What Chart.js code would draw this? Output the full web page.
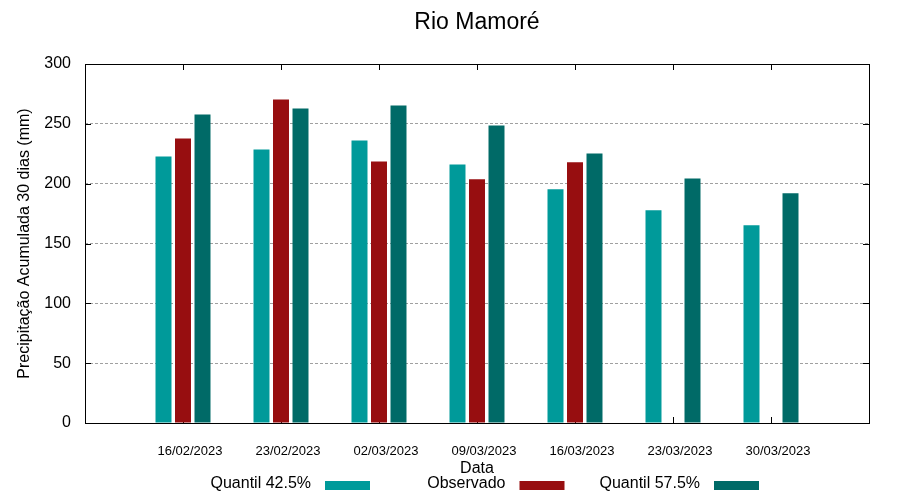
<!DOCTYPE html>
<html>
<head>
<meta charset="utf-8">
<script src="https://cdn.jsdelivr.net/npm/chart.js@4/dist/chart.umd.min.js"></script>
<style>
  html, body { margin: 0; padding: 0; background: #fff; }
</style>
</head>
<body>
<canvas id="chart" width="900" height="500"></canvas>
<script>
// chart data
const dates = ['16/02/2023', '23/02/2023', '02/03/2023', '09/03/2023', '16/03/2023', '23/03/2023', '30/03/2023'];
const quantil425 = [222.8, 228.6, 236.1, 216.1, 195.3, 177.8, 165.2];
const observado = [237.8, 270.3, 218.6, 203.6, 217.8, null, null];
const quantil575 = [257.8, 262.8, 265.3, 248.6, 225.3, 204.4, 191.9];
const yTicks = [0, 50, 100, 150, 200, 250, 300];

const FONT = "'Liberation Sans', Arial, sans-serif";
Chart.defaults.font.family = FONT;
Chart.defaults.color = '#000';

// empty slot before first and after last date, like the original axis range
const pad = arr => [null, ...arr, null];

const series = [
    { label: 'Quantil 42.5%', data: quantil425, color: '#009a9a' },
    { label: 'Observado', data: observado, color: '#970e10' },
    { label: 'Quantil 57.5%', data: quantil575, color: '#006a67' }
];

// border, inward tick marks and the gnuplot style legend
const framePlugin = {
    id: 'frame',
    beforeDatasetsDraw(chart) {
        const { ctx, chartArea: a, scales: { x, y } } = chart;
        ctx.save();
        ctx.strokeStyle = '#000';
        ctx.lineWidth = 1;
        ctx.beginPath();
        y.ticks.forEach(t => {
            const py = Math.round(y.getPixelForValue(t.value)) + 0.5;
            ctx.moveTo(a.left, py); ctx.lineTo(a.left + 6, py);
            ctx.moveTo(a.right, py); ctx.lineTo(a.right - 6, py);
        });
        dates.forEach((d, i) => {
            const px = Math.round(x.getPixelForValue(i + 1)) + 0.5;
            ctx.moveTo(px, a.bottom); ctx.lineTo(px, a.bottom - 6);
            ctx.moveTo(px, a.top); ctx.lineTo(px, a.top + 6);
        });
        ctx.stroke();
        ctx.restore();
    },
    afterDatasetsDraw(chart) {
        const { ctx, chartArea: a } = chart;
        ctx.save();
        ctx.strokeStyle = '#000';
        ctx.lineWidth = 1;
        ctx.strokeRect(Math.round(a.left) + 0.5, Math.round(a.top) + 0.5,
            Math.round(a.right - a.left), Math.round(a.bottom - a.top));
        ctx.restore();
    },
    afterDraw(chart) {
        const { ctx } = chart;
        ctx.save();
        ctx.font = '16px ' + FONT;
        ctx.textAlign = 'right';
        ctx.textBaseline = 'middle';
        chart.data.datasets.forEach((ds, i) => {
            const bx = 325 + i * 194.5;
            ctx.fillStyle = '#000';
            ctx.fillText(ds.label, bx - 14, 484);
            ctx.fillStyle = ds.backgroundColor;
            ctx.fillRect(bx, 481, 45, 9);
        });
        ctx.restore();
    }
};

new Chart(document.getElementById('chart').getContext('2d'), {
    type: 'bar',
    data: {
        labels: ['', ...dates, ''],
        datasets: series.map(s => ({
            label: s.label,
            data: pad(s.data),
            backgroundColor: s.color,
            borderWidth: 0,
            categoryPercentage: 0.597,
            barPercentage: 0.82
        }))
    },
    options: {
        responsive: false,
        animation: false,
        layout: { padding: { left: 0, right: 31, top: 0, bottom: 0 } },
        plugins: {
            legend: { display: false },
            tooltip: { enabled: false },
            title: {
                display: true,
                text: 'Rio Mamoré',
                fullSize: false,
                color: '#000',
                font: { size: 23, weight: 'normal' },
                padding: { top: 9, bottom: 27.4 }
            }
        },
        scales: {
            x: {
                offset: false,
                grid: { display: false, drawTicks: false },
                border: { display: false },
                ticks: {
                    autoSkip: false,
                    maxRotation: 0,
                    minRotation: 0,
                    padding: 21,
                    labelOffset: 7,
                    font: { size: 13 }
                },
                title: {
                    display: true,
                    text: 'Data',
                    font: { size: 16 },
                    padding: { top: 0, bottom: 22 }
                },
                afterFit: s => { s.height = 77; }
            },
            y: {
                min: 0,
                max: 300,
                afterBuildTicks: s => { s.ticks = yTicks.map(v => ({ value: v })); },
                grid: { color: '#a0a0a0', lineWidth: 1, drawTicks: false },
                border: { display: false, dash: [3, 2] },
                ticks: { padding: 14, font: { size: 16 } },
                title: {
                    display: true,
                    text: 'Precipitação Acumulada 30 dias (mm)',
                    font: { size: 16 },
                    padding: { top: 15, bottom: 0 }
                },
                afterFit: s => { s.width = 85; }
            }
        }
    },
    plugins: [framePlugin]
});
</script>
</body>
</html>
